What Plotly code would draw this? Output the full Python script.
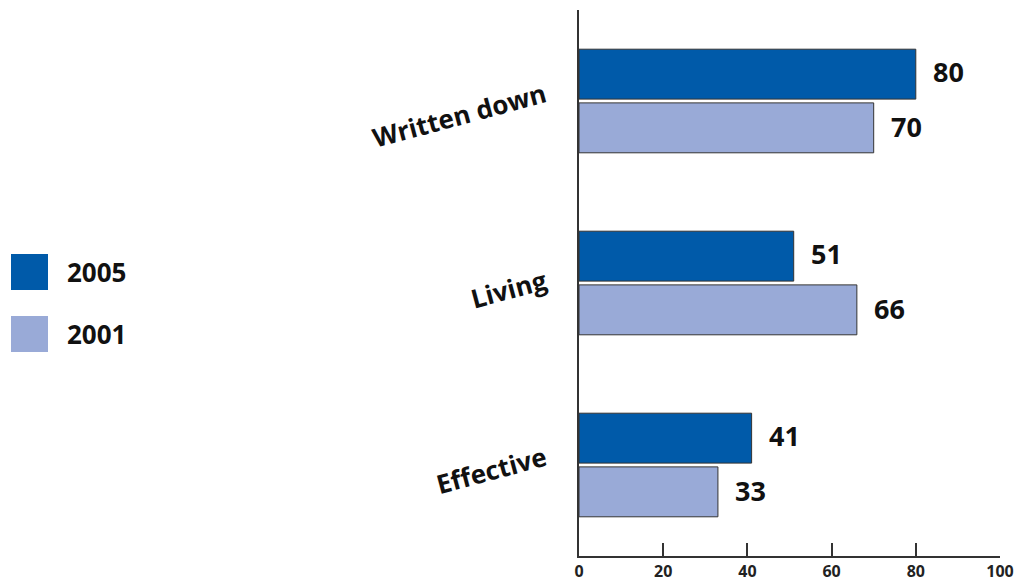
import plotly.graph_objects as go

# Survey categories and shares (%) for each year
categories = ["Written down", "Living", "Effective"]
values_2005 = [80, 51, 41]
values_2001 = [70, 66, 33]
years = ["2005", "2001"]
x_ticks = [0, 20, 40, 60, 80, 100]

COL_2005 = "#005AA9"
COL_2001 = "#99AAD7"
FONT = "Open Sans"
TXT = "#111111"

W, H = 1016, 585
ML, MR, MT, MB = 579, 16, 10, 29
PW, PH = W - ML - MR, H - MT - MB

# vertical nudge (px, negative = down) for each slanted category label
label_nudge = [-14, -6, -5]


def px_x(p):
    return (p - ML) / PW


def px_y(p):
    return (H - MB - p) / PH


fig = go.Figure()
for name, vals, col in [(years[0], values_2005, COL_2005), (years[1], values_2001, COL_2001)]:
    fig.add_trace(go.Bar(
        y=categories, x=vals, name=name, orientation="h",
        marker=dict(color=col, line=dict(color="#333333", width=1)),
        showlegend=False,
    ))

annotations = []
# value labels to the right of each bar
for k, vals in enumerate([values_2005, values_2001]):
    for cat, v in zip(categories, vals):
        annotations.append(dict(
            x=v, y=cat, xref="x", yref="y", text=str(v), showarrow=False,
            xanchor="left", yanchor="middle", xshift=15,
            yshift=30 if k == 0 else -25,
            font=dict(family=FONT, size=27, color=TXT, weight="bold"),
        ))

# slanted category labels left of the axis
for cat, nudge in zip(categories, label_nudge):
    annotations.append(dict(
        x=px_x(553), y=cat, xref="paper", yref="y", text=cat, showarrow=False,
        xanchor="right", yanchor="middle", yshift=nudge, textangle=-15,
        font=dict(family=FONT, size=26, color=TXT, weight="bold"),
    ))

# legend: colour squares with year labels
shapes = []
for i, (name, col) in enumerate([(years[0], COL_2005), (years[1], COL_2001)]):
    top = 254 + i * 62
    shapes.append(dict(
        type="rect", xref="paper", yref="paper",
        x0=px_x(11), x1=px_x(48), y0=px_y(top + 36), y1=px_y(top),
        fillcolor=col, line=dict(width=0),
    ))
    annotations.append(dict(
        x=px_x(65), y=px_y(top + 18), xref="paper", yref="paper", text=name,
        showarrow=False, xanchor="left", yanchor="middle",
        font=dict(family=FONT, size=26, color=TXT, weight="bold"),
    ))

fig.update_layout(
    width=W, height=H,
    margin=dict(l=ML, r=MR, t=MT, b=MB, autoexpand=False),
    paper_bgcolor="white", plot_bgcolor="white",
    barmode="group", bargap=0.41, bargroupgap=0.07,
    annotations=annotations, shapes=shapes,
    xaxis=dict(
        range=[0, 100], tickvals=x_ticks, ticks="inside", ticklen=13,
        tickcolor="#333333", tickwidth=1.5, showline=True, linecolor="#333333",
        linewidth=2, showgrid=False, zeroline=False, automargin=False,
        tickfont=dict(family=FONT, size=16, color="#222222", weight="bold"),
    ),
    yaxis=dict(
        categoryorder="array", categoryarray=categories, autorange="reversed",
        showline=True, linecolor="#333333", linewidth=2, showgrid=False,
        zeroline=False, showticklabels=False, ticks="", automargin=False,
    ),
)

fig.write_html("out.html")
